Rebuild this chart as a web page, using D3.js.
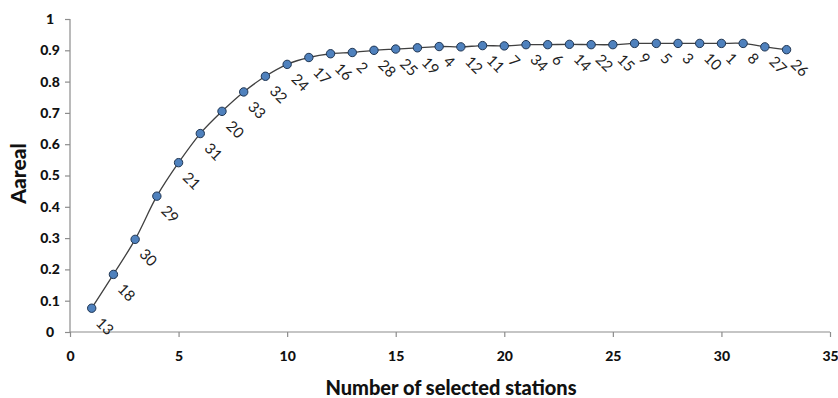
<!DOCTYPE html>
<html>
<head>
<meta charset="utf-8">
<script src="https://cdn.jsdelivr.net/npm/d3@7"></script>
<style>
  body { margin: 0; background: #fff; }
  svg text { font-family: Lato, "Open Sans", sans-serif; }
</style>
</head>
<body>
<div id="chart"></div>
<script>
// station count on x, areal value on y, station id label per point
var stationCount = [1,2,3,4,5,6,7,8,9,10,11,12,13,14,15,16,17,18,19,20,21,22,23,24,25,26,27,28,29,30,31,32,33];
var arealValues = [0.076,0.184,0.296,0.434,0.541,0.634,0.705,0.767,0.817,0.855,
                   0.877,0.889,0.893,0.900,0.904,0.908,0.912,0.911,0.915,0.914,
                   0.918,0.918,0.919,0.918,0.918,0.922,0.922,0.922,0.922,0.922,
                   0.922,0.911,0.902];
var stationIds = ["13","18","30","29","21","31","20","33","32","24","17","16","2","28","25","19",
                  "4","12","11","7","34","6","14","22","15","9","5","3","10","1","8","27","26"];
var xTicks = [0,5,10,15,20,25,30,35];
var yTicks = [0,0.1,0.2,0.3,0.4,0.5,0.6,0.7,0.8,0.9,1];

var W = 838, H = 398;
var margin = { top: 19, right: 8, bottom: 66, left: 70 };
var width = W - margin.left - margin.right,
    height = H - margin.top - margin.bottom;

var svg = d3.select("#chart").append("svg")
    .attr("width", W)
    .attr("height", H)
  .append("g")
    .attr("transform", "translate(" + margin.left + "," + margin.top + ")");

var x = d3.scaleLinear().domain([0, 35]).range([0, width]);
var y = d3.scaleLinear().domain([0, 1]).range([height, 0]);

var axisColor = "#8c8c8c";

// axes
var xAxis = svg.append("g")
    .attr("transform", "translate(0," + height + ")")
    .call(d3.axisBottom(x).tickValues(xTicks).tickSize(5).tickPadding(14).tickFormat(d3.format("d")));
var yAxis = svg.append("g")
    .call(d3.axisLeft(y).tickValues(yTicks).tickSize(5).tickPadding(5).tickFormat(function(d){ return d === 0 || d === 1 ? d : d3.format(".1f")(d); }));

[xAxis, yAxis].forEach(function(a){
    a.select(".domain").attr("stroke", axisColor).attr("stroke-width", 1.2);
    a.selectAll(".tick line").attr("stroke", axisColor).attr("stroke-width", 1.2);
    a.selectAll(".tick text")
        .attr("fill", "#111")
        .style("font-size", "14px")
        .style("font-weight", "900");
});
// y tick labels are centred in the original
yAxis.selectAll(".tick text").attr("text-anchor", "middle").attr("x", -20);
xAxis.selectAll(".domain").attr("d", "M0,0H" + width);
yAxis.selectAll(".domain").attr("d", "M0,0V" + height);

// titles
svg.append("text")
    .attr("x", width / 2 + 1)
    .attr("y", height + 63)
    .attr("text-anchor", "middle")
    .style("font-size", "20px")
    .style("font-weight", "900")
    .attr("fill", "#111")
    .text("Number of selected stations");

svg.append("text")
    .attr("transform", "translate(" + (-44) + "," + (height / 2 - 2) + ") rotate(-90)")
    .attr("text-anchor", "middle")
    .style("font-size", "21px")
    .style("font-weight", "900")
    .attr("fill", "#111")
    .text("Aareal");

var data = stationCount.map(function(d, i){
    return { n: d, v: arealValues[i], id: stationIds[i] };
});

// smoothed line
svg.append("path")
    .datum(data)
    .attr("fill", "none")
    .attr("stroke", "#404040")
    .attr("stroke-width", 1.3)
    .attr("d", d3.line()
        .curve(d3.curveCatmullRom.alpha(0.5))
        .x(function(d){ return x(d.n); })
        .y(function(d){ return y(d.v); }));

// markers
svg.selectAll(".pt")
    .data(data)
    .enter().append("circle")
    .attr("class", "pt")
    .attr("cx", function(d){ return x(d.n); })
    .attr("cy", function(d){ return y(d.v); })
    .attr("r", 4.2)
    .attr("fill", "#4f81bd")
    .attr("stroke", "#1f3552")
    .attr("stroke-width", 1);

// station id labels, rotated
svg.selectAll(".lbl")
    .data(data)
    .enter().append("text")
    .attr("class", "lbl")
    .attr("transform", function(d){
        return "translate(" + (x(d.n) + 7) + "," + (y(d.v) + 12) + ") rotate(45)";
    })
    .attr("dy", "0.35em")
    .style("font-size", "15px")
    .attr("fill", "#222")
    .text(function(d){ return d.id; });
</script>
</body>
</html>
